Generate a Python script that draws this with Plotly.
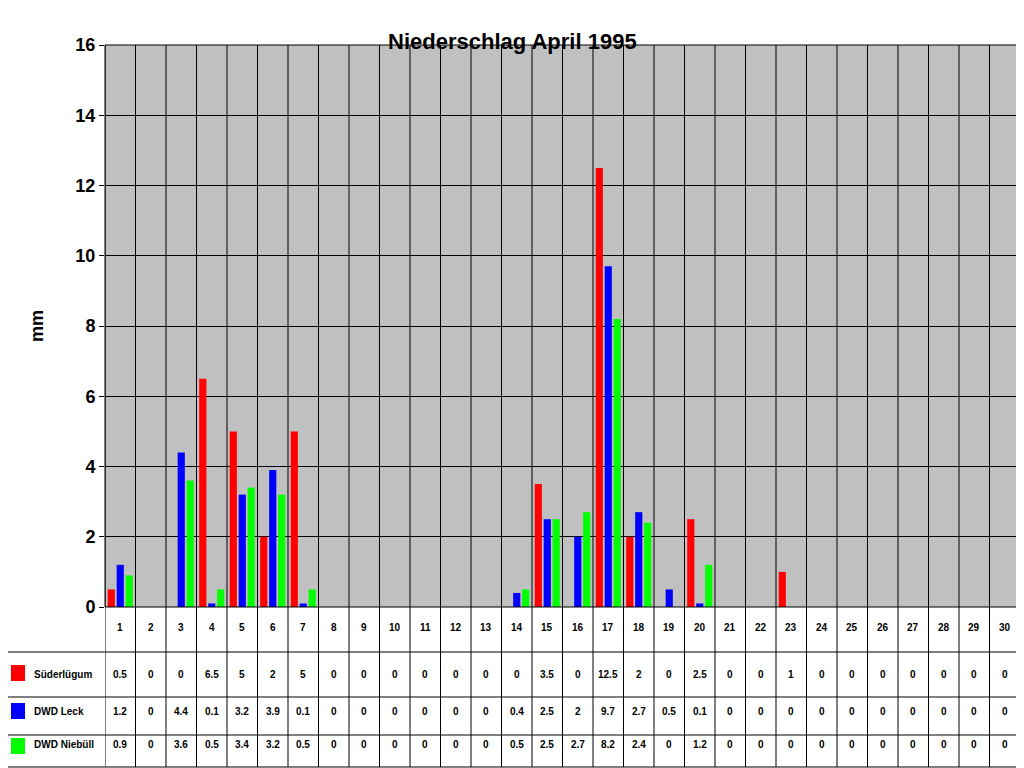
import plotly.graph_objects as go

days = list(range(1, 31))
series_names = ["Süderlügum", "DWD Leck", "DWD Niebüll"]
sued = [0.5, 0, 0, 6.5, 5, 2, 5, 0, 0, 0, 0, 0, 0, 0, 3.5, 0, 12.5, 2, 0, 2.5, 0, 0, 1, 0, 0, 0, 0, 0, 0, 0]
leck = [1.2, 0, 4.4, 0.1, 3.2, 3.9, 0.1, 0, 0, 0, 0, 0, 0, 0.4, 2.5, 2, 9.7, 2.7, 0.5, 0.1, 0, 0, 0, 0, 0, 0, 0, 0, 0, 0]
nieb = [0.9, 0, 3.6, 0.5, 3.4, 3.2, 0.5, 0, 0, 0, 0, 0, 0, 0.5, 2.5, 2.7, 8.2, 2.4, 0, 1.2, 0, 0, 0, 0, 0, 0, 0, 0, 0, 0]
colors = ["#FF0000", "#0000FF", "#00FF00"]

OFF = 8  # page body margin
W, H = 1024 - OFF - 2, 768 - OFF
L, R, T, B = 105 - OFF, 2, 45 - OFF, 768 - 607
ph = H - T - B
pw = W - L - R

def py(p):  # screen pixel y -> paper y
    return (H - B - (p - OFF)) / ph

def px(p):  # screen pixel x -> paper x
    return (p - OFF - L) / pw

fig = go.Figure()
for name, vals, c in zip(series_names, [sued, leck, nieb], colors):
    fig.add_trace(go.Bar(x=days, y=vals, name=name, marker=dict(color=c, line=dict(width=0))))

shapes = []
annots = []
bottom = py(767)
row_lines = [py(652), py(697), py(735)]
for k in range(31):
    shapes.append(dict(type="line", xref="x", yref="paper", x0=k + 0.5, x1=k + 0.5,
                       y0=bottom, y1=1, line=dict(color="black", width=1)))
shapes.append(dict(type="line", xref="paper", yref="paper", x0=px(5), x1=px(5),
                   y0=bottom, y1=row_lines[0], line=dict(color="black", width=1)))
for yl in row_lines + [bottom]:
    shapes.append(dict(type="line", xref="paper", yref="paper", x0=px(5),
                       x1=1, y0=yl, y1=yl, line=dict(color="black", width=1)))
shapes.append(dict(type="rect", xref="paper", yref="paper", x0=0, x1=1, y0=0, y1=1,
                   line=dict(color="black", width=1)))

tfont = dict(family="Arial", size=10, color="black")
for d in days:
    annots.append(dict(x=d, y=py(635), xref="x", yref="paper", text=f"<b>{d}</b>",
                       showarrow=False, font=tfont))
row_text_y = [py(682), py(719), py(752)]
mark_y = [(665, 681), (703, 719), (738, 754)]
for vals, ty, (m0, m1), c, name in zip([sued, leck, nieb], row_text_y, mark_y, colors, series_names):
    for d, v in zip(days, vals):
        annots.append(dict(x=d, y=ty, xref="x", yref="paper", text=f"<b>{v:g}</b>",
                           showarrow=False, font=tfont))
    shapes.append(dict(type="rect", xref="paper", yref="paper", x0=px(11), x1=px(25),
                       y0=py(m1), y1=py(m0), fillcolor=c, line=dict(width=0)))
    annots.append(dict(x=px(32), y=ty, xref="paper", yref="paper", text=f"<b>{name}</b>",
                       showarrow=False, xanchor="left", font=tfont))

annots.append(dict(x=px(25), y=py(326), xref="paper", yref="paper", text="<b>mm</b>",
                   textangle=-90, showarrow=False, font=dict(family="Arial", size=18, color="black")))
annots.append(dict(x=px(512), y=py(27), xref="paper", yref="paper", text="<b>Niederschlag April 1995</b>",
                   showarrow=False, font=dict(family="Arial", size=22, color="black")))

fig.update_layout(
    width=W, height=H, margin=dict(l=L, r=R, t=T, b=B),
    plot_bgcolor="#C0C0C0", paper_bgcolor="white",
    barmode="group", bargap=0.12, bargroupgap=0.2, showlegend=False,
    xaxis=dict(range=[0.5, 30.5], showticklabels=False, showgrid=False, zeroline=False),
    yaxis=dict(range=[0, 16], dtick=2, gridcolor="black", gridwidth=1, zeroline=False,
               tickfont=dict(family="Arial", size=18, color="black"), ticks="outside",
               tickcolor="black", ticklen=5, tickprefix="<b>", ticksuffix="</b>"),
    shapes=shapes, annotations=annots,
)
fig.write_html("out.html")
